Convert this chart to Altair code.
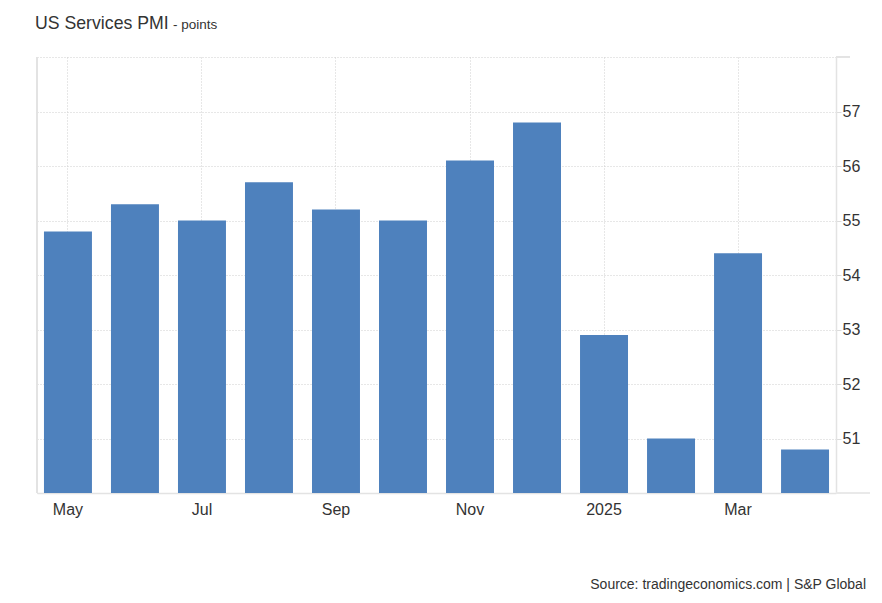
import altair as alt
import pandas as pd

months = ["May", "Jun", "Jul", "Aug", "Sep", "Oct", "Nov", "Dec", "Jan", "Feb", "Mar", "Apr"]
pmi = [54.8, 55.3, 55.0, 55.7, 55.2, 55.0, 56.1, 56.8, 52.9, 51.0, 54.4, 50.8]
x_tick_months = ["May", "Jul", "Sep", "Nov", "Jan", "Mar"]
y_ticks = [50, 51, 52, 53, 54, 55, 56, 57, 58]

title_main = "US Services PMI"
title_unit = "- points"
source_text = "Source: tradingeconomics.com | S&P Global"

FONT = "Liberation Sans"
W, H = 799, 436

df = pd.DataFrame({"month": months, "pmi": pmi})

x_enc = alt.X(
    "month:N",
    sort=months,
    scale=alt.Scale(paddingInner=0.284, paddingOuter=0.104),
    axis=alt.Axis(
        title=None,
        values=x_tick_months,
        labelExpr="datum.value == 'Jan' ? '2025' : datum.value",
        labelAngle=0,
        labelFontSize=16,
        labelColor="#333333",
        labelFont=FONT,
        labelPadding=8,
        ticks=False,
        grid=True,
        gridDash=[1, 2],
        gridColor="#cfcfcf",
        gridWidth=1,
        bandPosition=0.5,
        domainColor="#e3e3e3",
        domainWidth=1.5,
    ),
)

y_enc = alt.Y(
    "pmi:Q",
    scale=alt.Scale(domain=[50, 58], zero=False, nice=False),
    axis=alt.Axis(
        title=None,
        orient="right",
        values=y_ticks,
        labelExpr="(datum.value >= 51 && datum.value <= 57) ? datum.label : ''",
        labelFontSize=16,
        labelColor="#333333",
        labelFont=FONT,
        labelPadding=1,
        tickSize=5,
        tickColor="#dcdcdc",
        grid=True,
        gridDash=[1, 2],
        gridColor="#cfcfcf",
        domainColor="#e3e3e3",
        domainWidth=1.5,
    ),
)

bars = alt.Chart(df).mark_bar(color="#4e81bd", clip=True).encode(x=x_enc, y=y_enc)

left_border = alt.Chart(df).mark_rule(color="#e3e3e3", strokeWidth=1.5).encode(
    x=alt.value(0), y=alt.value(0), y2=alt.value(H)
)
bottom_ext = alt.Chart(df).mark_rule(color="#e8e8e8", strokeWidth=1.5).encode(
    x=alt.value(W), x2=alt.value(W + 34), y=alt.value(H)
)
top_ext = alt.Chart(df).mark_rule(color="#e3e3e3", strokeWidth=1).encode(
    x=alt.value(W), x2=alt.value(W + 14), y=alt.value(0)
)

t1 = alt.Chart(pd.DataFrame({"t": [title_main]})).mark_text(
    align="left", baseline="alphabetic", fontSize=17.7, font=FONT, color="#333333"
).encode(text="t:N", x=alt.value(-2), y=alt.value(-28))
t2 = alt.Chart(pd.DataFrame({"t": [title_unit]})).mark_text(
    align="left", baseline="alphabetic", fontSize=13.5, font=FONT, color="#333333"
).encode(text="t:N", x=alt.value(136), y=alt.value(-28))
t3 = alt.Chart(pd.DataFrame({"t": [source_text]})).mark_text(
    align="right", baseline="alphabetic", fontSize=14, font=FONT, color="#333333"
).encode(text="t:N", x=alt.value(829), y=alt.value(532))

chart = (
    alt.layer(bars, left_border, bottom_ext, top_ext, t1, t2, t3)
    .properties(
        width=W,
        height=H,
        autosize=alt.AutoSizeParams(type="none"),
        padding={"left": 29, "top": 49, "right": 37, "bottom": 102},
        background="white",
    )
    .configure_view(stroke=None)
)

chart.save("out.html", embed_options={"renderer": "svg", "actions": False})
